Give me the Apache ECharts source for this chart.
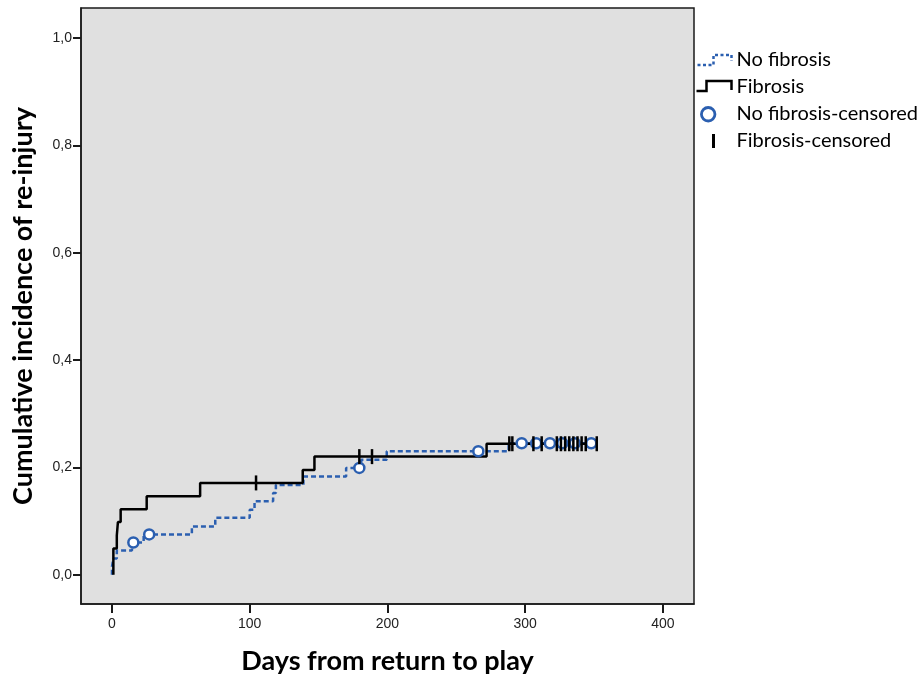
<!DOCTYPE html>
<html><head><meta charset="utf-8">
<script src="https://cdn.jsdelivr.net/npm/echarts@6/dist/echarts.min.js"></script>
<style>html,body{margin:0;padding:0;background:#fff}#c{width:923px;height:674px}</style>
</head><body><div id="c"></div>
<script>
// ---- data ----
const xTicks = [0, 100, 200, 300, 400];
const yTicks = [0, 0.2, 0.4, 0.6, 0.8, 1.0];

const seriesNames = ['No fibrosis', 'Fibrosis', 'No fibrosis-censored', 'Fibrosis-censored'];

const noFibDays = [0, 0, 1, 3.5, 14.5, 23, 58, 75, 100, 103.5, 117, 119, 139, 170, 181, 199.5, 288, 348];
const noFibCum  = [0, 0.015, 0.030, 0.045, 0.060, 0.075, 0.090, 0.106, 0.121, 0.137, 0.152, 0.167, 0.183, 0.199, 0.214, 0.230, 0.245, 0.245];

const fibDays = [1, 1, 3.5, 4.3, 6.3, 25.2, 64, 138.5, 147, 272, 352];
const fibCum  = [0, 0.049, 0.073, 0.098, 0.122, 0.146, 0.171, 0.195, 0.220, 0.244, 0.244];

const noFibCensDays = [15.5, 27, 179.6, 266, 297.5, 308, 318, 327, 336, 348];
const noFibCensCum  = [0.060, 0.075, 0.199, 0.230, 0.245, 0.245, 0.245, 0.245, 0.245, 0.245];

const fibCensDays = [104.6, 179.6, 188.8, 288.5, 290.7, 306, 312, 323, 326, 329, 332, 335, 338, 341, 344, 352];
const fibCensCum  = [0.171, 0.220, 0.220, 0.244, 0.244, 0.244, 0.244, 0.244, 0.244, 0.244, 0.244, 0.244, 0.244, 0.244, 0.244, 0.244];

// ---- build ----
const zip = (a, b) => a.map((v, i) => [v, b[i]]);
const BLUE = '#2b5fb0';
const TITLE_FONT = 'Lato, "Open Sans", sans-serif';
const TICK_FONT = '"Liberation Sans", Arial, sans-serif';

const chart = echarts.init(document.getElementById('c'), null, {renderer: 'canvas'});
chart.setOption({
  animation: false,
  backgroundColor: '#fff',
  grid: {
    left: 81, top: 8, right: 229, bottom: 70,
    outerBoundsMode: 'none', containLabel: false,
    show: true, backgroundColor: '#e0e0e0', borderColor: '#1a1a1a', borderWidth: 1.5
  },
  legend: {
    orient: 'vertical', left: 688, top: 45, padding: 5,
    itemWidth: 36, itemHeight: 14, itemGap: 7,
    textStyle: {fontFamily: TITLE_FONT, fontSize: 20, color: '#000'},
    selectedMode: false,
    data: [
      {name: seriesNames[0], icon: 'path://M0 0 M36 14 M2 12 L18 12 L18 2 L36 2 L36 8',
       itemStyle: {color: 'none', borderColor: BLUE, borderWidth: 2.5, borderType: [3, 2.5]}},
      {name: seriesNames[1], icon: 'path://M0 0 M36 14 M1 11 L11 11 L11 1 L36 1 L36 10',
       itemStyle: {color: 'none', borderColor: '#000', borderWidth: 2.5, borderType: 'solid'}},
      {name: seriesNames[2], icon: 'path://M0 0 M36 14 M19.5 7.5 A7 7 0 1 1 5.5 7.5 A7 7 0 1 1 19.5 7.5 Z',
       itemStyle: {color: '#fff', borderColor: BLUE, borderWidth: 2.8, borderType: 'solid'}},
      {name: seriesNames[3], icon: 'path://M0 0 M36 14 M16.5 0 L19.5 0 L19.5 14 L16.5 14 Z',
       itemStyle: {color: '#000', borderColor: '#000', borderWidth: 0}}
    ]
  },
  xAxis: {
    type: 'value', min: -22.5, max: 422.6,
    name: 'Days from return to play', nameLocation: 'middle', nameGap: 44,
    nameTextStyle: {fontFamily: TITLE_FONT, fontSize: 27, fontWeight: 'bold', color: '#000'},
    axisLine: {show: true, onZero: false, lineStyle: {color: '#1a1a1a', width: 1.5}},
    axisTick: {show: true, length: 9, customValues: xTicks, lineStyle: {color: '#1a1a1a', width: 2}},
    axisLabel: {customValues: xTicks, margin: 13, fontFamily: TICK_FONT, fontSize: 14, color: '#222',
      formatter: v => String(v)},
    splitLine: {show: false}
  },
  yAxis: {
    type: 'value', min: -0.0546, max: 1.0559,
    name: 'Cumulative incidence of re-injury', nameLocation: 'middle', nameGap: 44,
    nameTextStyle: {fontFamily: TITLE_FONT, fontSize: 27, fontWeight: 'bold', color: '#000'},
    axisLine: {show: true, onZero: false, lineStyle: {color: '#1a1a1a', width: 1.5}},
    axisTick: {show: true, length: 8, customValues: yTicks, lineStyle: {color: '#1a1a1a', width: 2}},
    axisLabel: {customValues: yTicks, margin: 9, fontFamily: TICK_FONT, fontSize: 14, color: '#222',
      formatter: v => v.toFixed(1).replace('.', ',')},
    splitLine: {show: false}
  },
  series: [
    {name: seriesNames[0], type: 'line', step: 'end', data: zip(noFibDays, noFibCum),
     symbol: 'none', lineStyle: {color: BLUE, width: 2.5, type: [5, 3]}, itemStyle: {color: BLUE}, z: 2},
    {name: seriesNames[1], type: 'line', step: 'end', data: zip(fibDays, fibCum),
     symbol: 'none', lineStyle: {color: '#000', width: 2.5, type: 'solid'}, itemStyle: {color: '#000'}, z: 3},
    {name: seriesNames[2], type: 'scatter', data: zip(noFibCensDays, noFibCensCum),
     symbol: 'circle', symbolSize: 10,
     itemStyle: {color: '#fff', borderColor: BLUE, borderWidth: 2.5, opacity: 1}, z: 4},
    {name: seriesNames[3], type: 'scatter', data: zip(fibCensDays, fibCensCum),
     symbol: 'rect', symbolSize: [2.5, 15],
     itemStyle: {color: '#000', opacity: 1}, z: 5}
  ]
});
</script>
</body></html>
